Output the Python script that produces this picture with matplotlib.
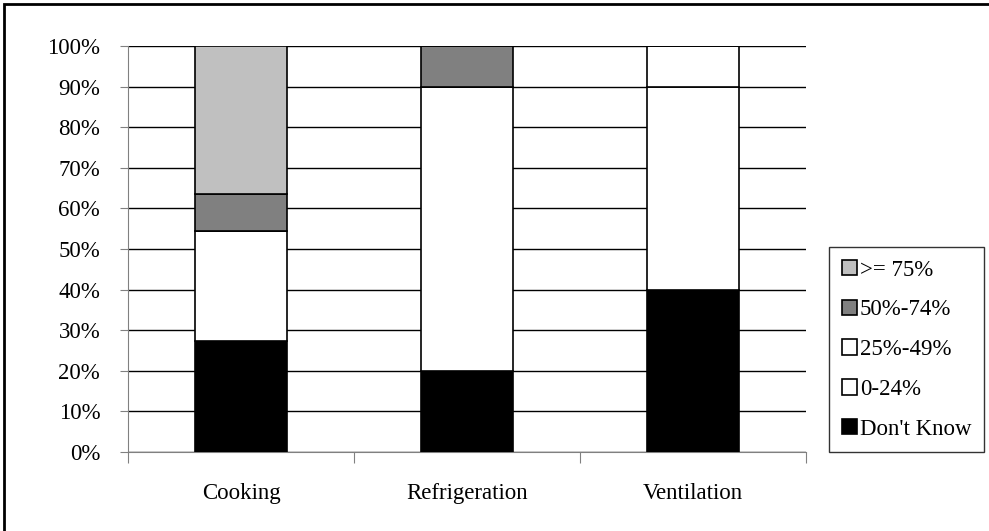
import matplotlib
matplotlib.use("Agg")
import matplotlib.pyplot as plt
import numpy as np
from matplotlib.patches import Rectangle

plt.rcParams['font.family'] = ['Liberation Serif', 'DejaVu Serif']

categories = ["Cooking", "Refrigeration", "Ventilation"]
series_names = ["Don't Know", "0-24%", "25%-49%", "50%-74%", ">= 75%"]
dont_know = [27.27, 20.0, 40.0]
p0_24 = [27.27, 70.0, 50.0]
p25_49 = [0.0, 0.0, 10.0]
p50_74 = [9.09, 10.0, 0.0]
p75 = [36.37, 0.0, 0.0]
yticks = [0, 10, 20, 30, 40, 50, 60, 70, 80, 90, 100]

colors = ["#000000", "#ffffff", "#ffffff", "#808080", "#c0c0c0"]
FS = 16.5

W, H = 989, 531
fig = plt.figure(figsize=(W / 100, H / 100), dpi=100)
ax = fig.add_axes([128 / W, 1 - 452 / H, (806 - 128) / W, (452 - 46) / H])

x = np.arange(len(categories))
bottom = np.zeros(len(categories))
handles = []
for name, vals, c in zip(series_names, [dont_know, p0_24, p25_49, p50_74, p75], colors):
    vals = np.array(vals)
    b = ax.bar(x, vals, bottom=bottom, width=0.41, color=c, edgecolor="black",
               linewidth=1.2, label=name, zorder=3)
    bottom += vals
    handles.append(b)

ax.set_xlim(-0.5, 2.5)
ax.set_ylim(0, 100)
ax.set_yticks(yticks)
ax.set_yticklabels([f"{v}%" for v in yticks], fontsize=FS)
ax.yaxis.grid(True, color="black", linewidth=1)
ax.set_axisbelow(True)
ax.set_xticks([-0.5, 0.5, 1.5, 2.5], minor=False)
ax.set_xticklabels([])
ax.set_xticks(x, minor=True)
ax.set_xticklabels(categories, minor=True, fontsize=FS)
ax.tick_params(axis="x", which="minor", length=0, pad=22)
ax.tick_params(axis="x", which="major", length=8, direction="out", color="#808080")
ax.tick_params(axis="y", length=6, direction="out", color="#808080", pad=14)
for s in ["top", "right"]:
    ax.spines[s].set_visible(False)
ax.spines["left"].set_color("#808080")
ax.spines["bottom"].set_color("#808080")

leg = fig.legend(handles[::-1], series_names[::-1], loc="upper left",
                 bbox_to_anchor=(829 / W, 1 - 247 / H), fontsize=FS,
                 frameon=True, fancybox=False, edgecolor="black",
                 handlelength=0.65, handleheight=0.65, handletextpad=0.15,
                 labelspacing=0.82, borderpad=0.55, borderaxespad=0)
leg.get_frame().set_linewidth(1)

fig.add_artist(Rectangle((4 / W, -0.1), 1.2, (1 - 4 / H) + 0.1, transform=fig.transFigure,
                         fill=False, edgecolor="black", linewidth=2))

fig.savefig("out.png", dpi=100)
